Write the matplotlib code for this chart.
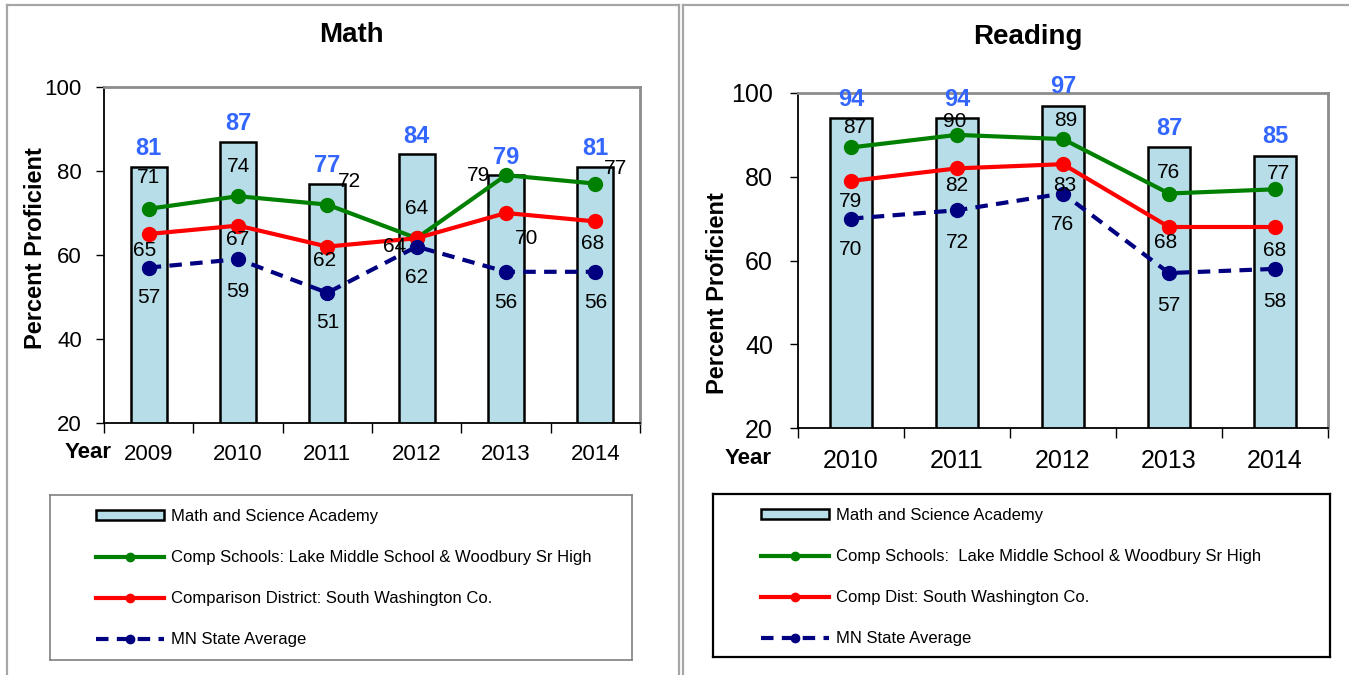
import matplotlib
matplotlib.use("Agg")
import matplotlib.pyplot as plt
from matplotlib.lines import Line2D
from matplotlib.patches import Patch
import numpy as np

plt.rcParams['font.family'] = ['Liberation Sans', 'DejaVu Sans']

# ---------------- data ----------------
math_years = ["2009", "2010", "2011", "2012", "2013", "2014"]
math_academy = [81, 87, 77, 84, 79, 81]
math_comp_schools = [71, 74, 72, 64, 79, 77]
math_district = [65, 67, 62, 64, 70, 68]
math_state = [57, 59, 51, 62, 56, 56]

read_years = ["2010", "2011", "2012", "2013", "2014"]
read_academy = [94, 94, 97, 87, 85]
read_comp_schools = [87, 90, 89, 76, 77]
read_district = [79, 82, 83, 68, 68]
read_state = [70, 72, 76, 57, 58]

math_legend = ["Math and Science Academy",
               "Comp Schools: Lake Middle School & Woodbury Sr High",
               "Comparison District: South Washington Co.",
               "MN State Average"]
read_legend = ["Math and Science Academy",
               "Comp Schools:  Lake Middle School & Woodbury Sr High",
               "Comp Dist: South Washington Co.",
               "MN State Average"]

# label offsets in pixels (dx, dy) for line data labels
math_green_off = [(0, 31), (0, 30), (22, 23), (0, 30), (-27, 0), (20, 15)]
math_red_off = [(-4, -16), (0, -14), (-3, -14), (-22, -8), (21, -25), (-3, -22)]
math_navy_off = [(0, -30), (0, -32), (0, -30), (0, -31), (0, -31), (0, -31)]
read_green_off = [(4, 20), (-2, 13), (3, 19), (0, 21), (4, 16)]
read_red_off = [(0, -21), (0, -17), (2, -21), (-3, -16), (0, -24)]
read_navy_off = [(0, -31), (0, -32), (0, -31), (0, -32), (0, -33)]

W, H = 1349, 675
fig = plt.figure(figsize=(W / 100, H / 100), dpi=100)
fig.patch.set_facecolor("white")


def fx(px):
    return px / W


def fy(py):
    return 1 - py / H


BAR_FC = "#B7DEE8"
GREEN = "#008000"
RED = "#FF0000"
NAVY = "#000080"
BLUE_LBL = "#3366FF"


def panel(rect, years, academy, comp, dist, state, offs, tick_fs, ypad, xpad, bar_lbl_dy):
    l, t, r, b = rect
    ax = fig.add_axes([fx(l), fy(b), fx(r) - fx(l), fy(t) - fy(b)])
    x = np.arange(len(years))
    ax.bar(x, academy, width=0.4, color=BAR_FC, edgecolor="black", linewidth=1.8, zorder=2, bottom=0)
    ax.plot(x, comp, color=GREEN, lw=3, marker="o", ms=10, zorder=4)
    ax.plot(x, dist, color=RED, lw=3, marker="o", ms=10, zorder=4)
    ax.plot(x, state, color=NAVY, lw=3, marker="o", ms=10, ls=(0, (3, 2)), zorder=4)
    ax.set_xlim(-0.5, len(years) - 0.5)
    ax.set_ylim(20, 100)
    ax.set_yticks([20, 40, 60, 80, 100])
    ax.set_xticks(x)
    ax.set_xticklabels(years)
    ax.set_xticks(np.arange(len(years) + 1) - 0.5, minor=True)
    ax.tick_params(axis="x", which="major", length=0, pad=xpad, labelsize=tick_fs)
    ax.tick_params(axis="x", which="minor", length=7, width=1, direction="out")
    ax.tick_params(axis="y", length=6, width=1, direction="out", pad=ypad, labelsize=tick_fs)
    for s in ("left", "bottom"):
        ax.spines[s].set_color("black")
        ax.spines[s].set_linewidth(1.3)
    for s in ("top", "right"):
        ax.spines[s].set_color("#8C8C8C")
        ax.spines[s].set_linewidth(2)
    # labels
    for i, v in enumerate(academy):
        ax.annotate(str(v), (x[i], v), xytext=(0, bar_lbl_dy), textcoords="offset pixels",
                    ha="center", va="center", fontsize=17, fontweight="bold", color=BLUE_LBL, zorder=6)
    for series, off in zip((comp, dist, state), offs):
        for i, v in enumerate(series):
            ax.annotate(str(v), (x[i], v), xytext=off[i], textcoords="offset pixels",
                        ha="center", va="center", fontsize=15, color="black", zorder=6)
    return ax


ax1 = panel((104, 87, 640, 423), math_years, math_academy, math_comp_schools, math_district,
            math_state, (math_green_off, math_red_off, math_navy_off), 16, 10, 15, 18)
ax2 = panel((798, 93, 1328, 428), read_years, read_academy, read_comp_schools, read_district,
            read_state, (read_green_off, read_red_off, read_navy_off), 18, 12, 15, 19)

# titles and axis texts
fig.text(fx(351), fy(35), "Math", ha="center", va="center", fontsize=20, fontweight="bold")
fig.text(fx(1028), fy(37), "Reading", ha="center", va="center", fontsize=20, fontweight="bold")
fig.text(fx(36), fy(248), "Percent Proficient", rotation=90, ha="center", va="center",
         fontsize=17, fontweight="bold")
fig.text(fx(717), fy(293), "Percent Proficient", rotation=90, ha="center", va="center",
         fontsize=17, fontweight="bold")
fig.text(fx(88), fy(452), "Year", ha="center", va="center", fontsize=16, fontweight="bold")
fig.text(fx(748), fy(458), "Year", ha="center", va="center", fontsize=16, fontweight="bold")

# panel borders
border_c = "#A6A6A6"
for (xs, ys) in [((7, 7), (5, 675)), ((7, 679), (5, 5)), ((679, 679), (5, 675)),
                 ((683, 683), (5, 675)), ((683, 1349), (5, 5))]:
    fig.add_artist(Line2D([fx(xs[0]), fx(xs[1])], [fy(ys[0]), fy(ys[1])],
                          color=border_c, lw=1.6, transform=fig.transFigure))


def legend_box(rect, labels, edge, elw, anchor):
    l, t, r, b = rect
    lax = fig.add_axes([fx(l), fy(b), fx(r) - fx(l), fy(t) - fy(b)])
    lax.set_xticks([])
    lax.set_yticks([])
    for s in lax.spines.values():
        s.set_color(edge)
        s.set_linewidth(elw)
    handles = [
        Patch(facecolor=BAR_FC, edgecolor="black", linewidth=1.8),
        Line2D([], [], color=GREEN, lw=3, marker="o", ms=6),
        Line2D([], [], color=RED, lw=3, marker="o", ms=6),
        Line2D([], [], color=NAVY, lw=3, marker="o", ms=6, ls=(0, (3, 2))),
    ]
    fig.legend(handles, labels, loc="upper left", bbox_to_anchor=(fx(anchor[0]), fy(anchor[1])),
               frameon=False, fontsize=12, handlelength=4.1, handleheight=0.5,
               handletextpad=0.42, labelspacing=1.56, borderpad=0, borderaxespad=0,
               numpoints=1)


legend_box((50, 495, 632, 660), math_legend, "#808080", 1.2, (96, 509))
legend_box((713, 494, 1330, 657), read_legend, "black", 1.6, (761, 508))

fig.savefig("out.png", dpi=100, facecolor="white")
